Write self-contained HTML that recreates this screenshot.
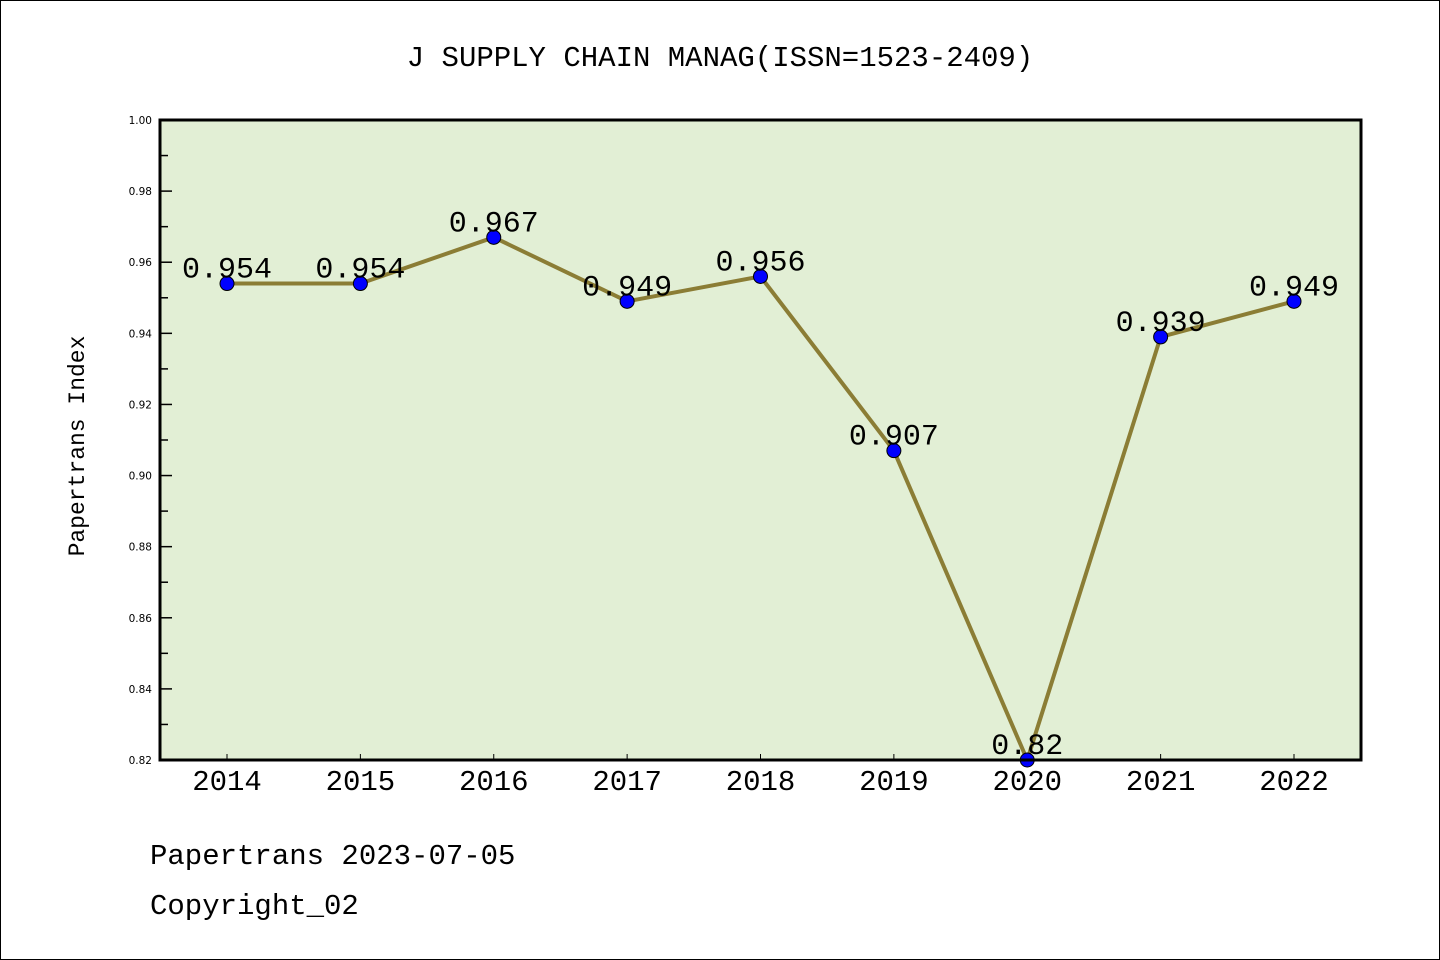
<!DOCTYPE html>
<html><head><meta charset="utf-8"><style>
body{margin:0;background:#fff;}
svg{display:block;font-family:"WenQuanYi Zen Hei","Liberation Mono",monospace;}
</style></head><body>
<svg id="chart" width="1440" height="960" xmlns="http://www.w3.org/2000/svg">
<rect x="0.5" y="0.5" width="1439" height="959" fill="#fff" stroke="#000" stroke-width="1"/>
<text x="720" y="66" font-size="29" text-anchor="middle">J SUPPLY CHAIN MANAG(ISSN=1523-2409)</text>
<rect x="160" y="120" width="1201" height="640" fill="#e2efd5"/>
<g id="yaxis"></g>
<g id="xaxis"></g>
<g id="series"></g>
<rect x="160" y="120" width="1201" height="640" fill="none" stroke="#000" stroke-width="3"/>
<text transform="translate(84,446) rotate(-90)" font-size="23" text-anchor="middle">Papertrans Index</text>
<text x="150" y="864" font-size="29">Papertrans 2023-07-05</text>
<text x="150" y="914" font-size="29">Copyright_02</text>
</svg>
<script>
const years=["2014","2015","2016","2017","2018","2019","2020","2021","2022"];
const values=[0.954,0.954,0.967,0.949,0.956,0.907,0.82,0.939,0.949];
const valueLabels=["0.954","0.954","0.967","0.949","0.956","0.907","0.82","0.939","0.949"];
const yTicks=[0.82,0.84,0.86,0.88,0.90,0.92,0.94,0.96,0.98,1.00];
const NS="http://www.w3.org/2000/svg";
const L=160,R=1361,T=120,B=760,ymin=0.82,ymax=1.0;
const xs=i=>227+i*(1294-227)/(years.length-1);
const ys=v=>B-(v-ymin)/(ymax-ymin)*(B-T);
function mk(tag,attrs,parent){const e=document.createElementNS(NS,tag);for(const k in attrs)e.setAttribute(k,attrs[k]);parent.appendChild(e);return e;}
const ya=document.getElementById('yaxis'),xa=document.getElementById('xaxis'),sg=document.getElementById('series');
yTicks.forEach((v,i)=>{
  const y=ys(v);
  const t=mk('line',{x1:L,x2:L+12,y1:y,y2:y,stroke:'#000','stroke-width':1.5},ya);
  
  const lb=mk('text',{x:L-8,y:y+4,'font-size':10.5,'text-anchor':'end','font-family':'DejaVu Sans, sans-serif'},ya);
  
  lb.textContent=v.toFixed(2);
  if(i<yTicks.length-1){
    const ym=ys(v+0.01);
    const m=mk('line',{x1:L,x2:L+8,y1:ym,y2:ym,stroke:'#000','stroke-width':1.5},ya);
    
  }
});
years.forEach((yr,i)=>{
  const x=xs(i);
  const t=mk('line',{x1:x,x2:x,y1:B,y2:B-6,stroke:'#000','stroke-width':1},xa);
  
  const lb=mk('text',{x:x,y:B+30,'font-size':29,'text-anchor':'middle'},xa);
  
  lb.textContent=yr;
});
const pts=values.map((v,i)=>xs(i)+','+ys(v)).join(' ');
const pl=mk('polyline',{points:pts,fill:'none',stroke:'#8b7d35','stroke-width':4},sg);

values.forEach((v,i)=>{
  const c=mk('circle',{cx:xs(i),cy:ys(v),r:7,fill:'#0000ff',stroke:'#000','stroke-width':1},sg);
  
});
values.forEach((v,i)=>{
  const lb=mk('text',{x:xs(i),y:ys(v)-6,'font-size':30,'text-anchor':'middle'},sg);
  
  lb.textContent=valueLabels[i];
});
</script>
</body></html>
